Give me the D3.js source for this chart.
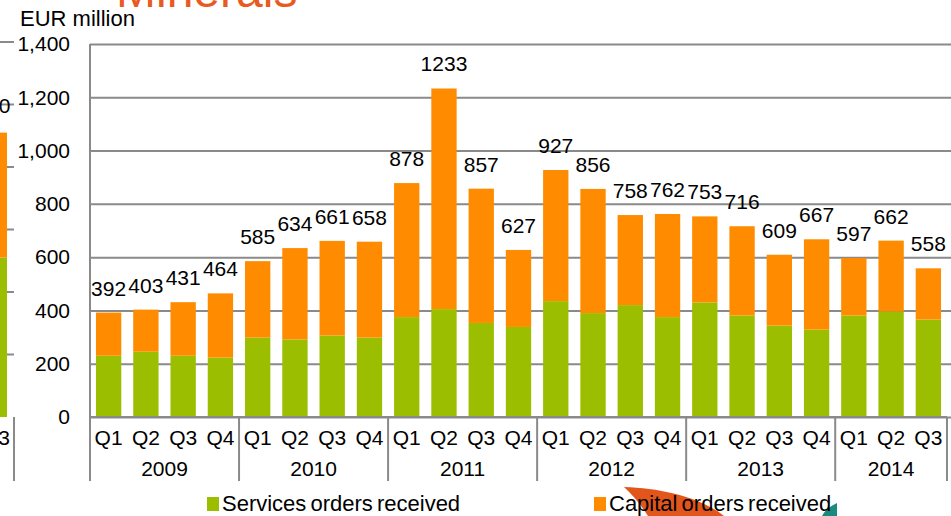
<!DOCTYPE html>
<html>
<head>
<meta charset="utf-8">
<script src="https://cdn.jsdelivr.net/npm/d3@7"></script>
<style>
  body { margin: 0; background: #fff; overflow: hidden; }
  svg text { font-family: "Liberation Sans", Arial, sans-serif; fill: #000; }
</style>
</head>
<body>
<script>
// quarterly order intake, EUR million
var quarters = ["Q1","Q2","Q3","Q4","Q1","Q2","Q3","Q4","Q1","Q2","Q3","Q4",
                "Q1","Q2","Q3","Q4","Q1","Q2","Q3","Q4","Q1","Q2","Q3"];
var years = ["2009","2010","2011","2012","2013","2014"];
var quartersPerYear = [4, 4, 4, 4, 4, 3];
var totals = [392,403,431,464, 585,634,661,658, 878,1233,857,627,
              927,856,758,762, 753,716,609,667, 597,662,558];
var services = [230,245,230,223, 298,291,306,298, 375,405,353,338,
                435,390,420,375, 430,381,343,328, 381,396,366];
var capital = totals.map(function(t, i) { return t - services[i]; });
var yTicks = [0,200,400,600,800,1000,1200,1400];

// previous chart on the slide, only its right edge shows
var prevTotals = [910];
var prevServices = [510];
var prevQuarters = ["Q3"];
var prevTicks = [200,400,600,800,1000,1200];

var width = 951, height = 516;
var green = "#9bbf00", orange = "#ff8c00", grid = "#8a8a8a";

var svg = d3.select("body").append("svg")
  .attr("width", width)
  .attr("height", height);

// title, mostly cut off at the top
svg.append("text")
  .attr("x", 116).attr("y", 7)
  .style("font-size", "48px")
  .style("fill", "#e95a20")
  .text("Minerals");

svg.append("text")
  .attr("x", 20).attr("y", 26)
  .style("font-size", "22px")
  .text("EUR million");

var x = d3.scaleBand()
  .domain(d3.range(totals.length))
  .range([90, 947])
  .paddingInner(0.32)
  .paddingOuter(0.16);

var y = d3.scaleLinear()
  .domain([0, 1400])
  .range([417, 44]);

// ---- left fragment ----
var prevY = d3.scaleLinear().domain([0, 1200]).range([417, 42]);
var frag = svg.append("g");
frag.selectAll(".pg")
  .data(prevTicks)
  .enter().append("line")
  .attr("x1", 0).attr("x2", 14)
  .attr("y1", function(d) { return prevY(d); })
  .attr("y2", function(d) { return prevY(d); })
  .attr("stroke", grid).attr("stroke-width", 2);
frag.selectAll(".ps")
  .data(prevServices)
  .enter().append("rect")
  .attr("x", -20).attr("width", 27)
  .attr("y", function(d) { return prevY(d); })
  .attr("height", function(d) { return prevY(0) - prevY(d); })
  .attr("fill", green);
frag.selectAll(".pc")
  .data(prevTotals)
  .enter().append("rect")
  .attr("x", -20).attr("width", 27)
  .attr("y", function(d) { return prevY(d); })
  .attr("height", function(d, i) { return prevY(prevServices[i]) - prevY(d); })
  .attr("fill", orange);
frag.selectAll(".pl")
  .data(prevTotals)
  .enter().append("text")
  .attr("x", -7).attr("y", function(d) { return prevY(d) - 20; })
  .attr("text-anchor", "middle")
  .style("font-size", "21px")
  .text(function(d) { return d; });
frag.selectAll(".pq")
  .data(prevQuarters)
  .enter().append("text")
  .attr("x", -4).attr("y", 445)
  .attr("text-anchor", "middle")
  .style("font-size", "21px")
  .text(function(d) { return d; });
frag.append("line")
  .attr("x1", 14).attr("x2", 14).attr("y1", 417).attr("y2", 481)
  .attr("stroke", grid).attr("stroke-width", 2);

// ---- main chart ----
var gridAxis = svg.append("g")
  .attr("transform", "translate(90,0)")
  .call(d3.axisLeft(y).tickValues(yTicks).tickSize(-(width - 90)).tickFormat(""));
gridAxis.select(".domain").remove();
gridAxis.selectAll("line").attr("stroke", grid).attr("stroke-width", 2);

var yAxis = svg.append("g")
  .attr("transform", "translate(90,0)")
  .call(d3.axisLeft(y).tickValues(yTicks).tickSize(0).tickPadding(20).tickFormat(d3.format(",")));
yAxis.select(".domain").remove();
yAxis.selectAll("text")
  .style("font-size", "21px")
  .style("font-family", "'Liberation Sans', Arial, sans-serif")
  .attr("fill", "#000");

var series = [
  { name: "Services orders received", values: services, color: green },
  { name: "Capital orders received", values: capital, color: orange }
];
var stacked = d3.stack()
  .keys([0, 1])
  .value(function(i, k) { return series[k].values[i]; })(d3.range(totals.length));

svg.selectAll(".layer")
  .data(stacked)
  .enter().append("g")
  .attr("fill", function(d, k) { return series[k].color; })
  .selectAll("rect")
  .data(function(d) { return d; })
  .enter().append("rect")
  .attr("x", function(d, i) { return x(i); })
  .attr("width", x.bandwidth())
  .attr("y", function(d) { return y(d[1]); })
  .attr("height", function(d) { return y(d[0]) - y(d[1]); });

// total labels
svg.selectAll(".total")
  .data(totals)
  .enter().append("text")
  .attr("x", function(d, i) { return x(i) + x.bandwidth() / 2; })
  .attr("y", function(d) { return y(d) - 17; })
  .attr("text-anchor", "middle")
  .style("font-size", "21px")
  .text(function(d) { return d; });

// axis lines
svg.append("line")
  .attr("x1", 90).attr("x2", 90).attr("y1", 44).attr("y2", 481)
  .attr("stroke", grid).attr("stroke-width", 2);
svg.append("line")
  .attr("x1", 90).attr("x2", 947).attr("y1", 417).attr("y2", 417)
  .attr("stroke", grid).attr("stroke-width", 2);

// quarter labels
svg.selectAll(".q")
  .data(quarters)
  .enter().append("text")
  .attr("x", function(d, i) { return x(i) + x.bandwidth() / 2; })
  .attr("y", 445)
  .attr("text-anchor", "middle")
  .style("font-size", "21px")
  .text(function(d) { return d; });

// year groups
var starts = [0];
quartersPerYear.forEach(function(n, i) { starts.push(starts[i] + n); });
var step = x.step();
var edge = function(idx) { return 90 + idx * step; };

svg.selectAll(".sep")
  .data(starts)
  .enter().append("line")
  .attr("x1", function(d) { return edge(d); })
  .attr("x2", function(d) { return edge(d); })
  .attr("y1", 417).attr("y2", 481)
  .attr("stroke", grid).attr("stroke-width", 2);

svg.selectAll(".year")
  .data(years)
  .enter().append("text")
  .attr("x", function(d, i) { return (edge(starts[i]) + edge(starts[i + 1])) / 2; })
  .attr("y", 476)
  .attr("text-anchor", "middle")
  .style("font-size", "21px")
  .text(function(d) { return d; });

// logo swoosh behind the legend
svg.append("path")
  .attr("d", "M624,487 C662,488 702,498 724,516 L648,516 C641,505 633,495 624,487 Z")
  .attr("fill", "#e2561c");
svg.append("path")
  .attr("d", "M837,503 Q826,508 822,516 L837,516 Z")
  .attr("fill", "#1b8a7e");

// legend
var legendX = [207, 594];
var legend = svg.selectAll(".legend")
  .data(series)
  .enter().append("g")
  .attr("transform", function(d, i) { return "translate(" + legendX[i] + ",0)"; });
legend.append("rect")
  .attr("x", 0).attr("y", 497).attr("width", 12).attr("height", 14)
  .attr("fill", function(d) { return d.color; });
legend.append("text")
  .attr("x", 15).attr("y", 511)
  .style("font-size", "22px")
  .style("word-spacing", "-2px")
  .text(function(d) { return d.name; });
</script>
</body>
</html>
